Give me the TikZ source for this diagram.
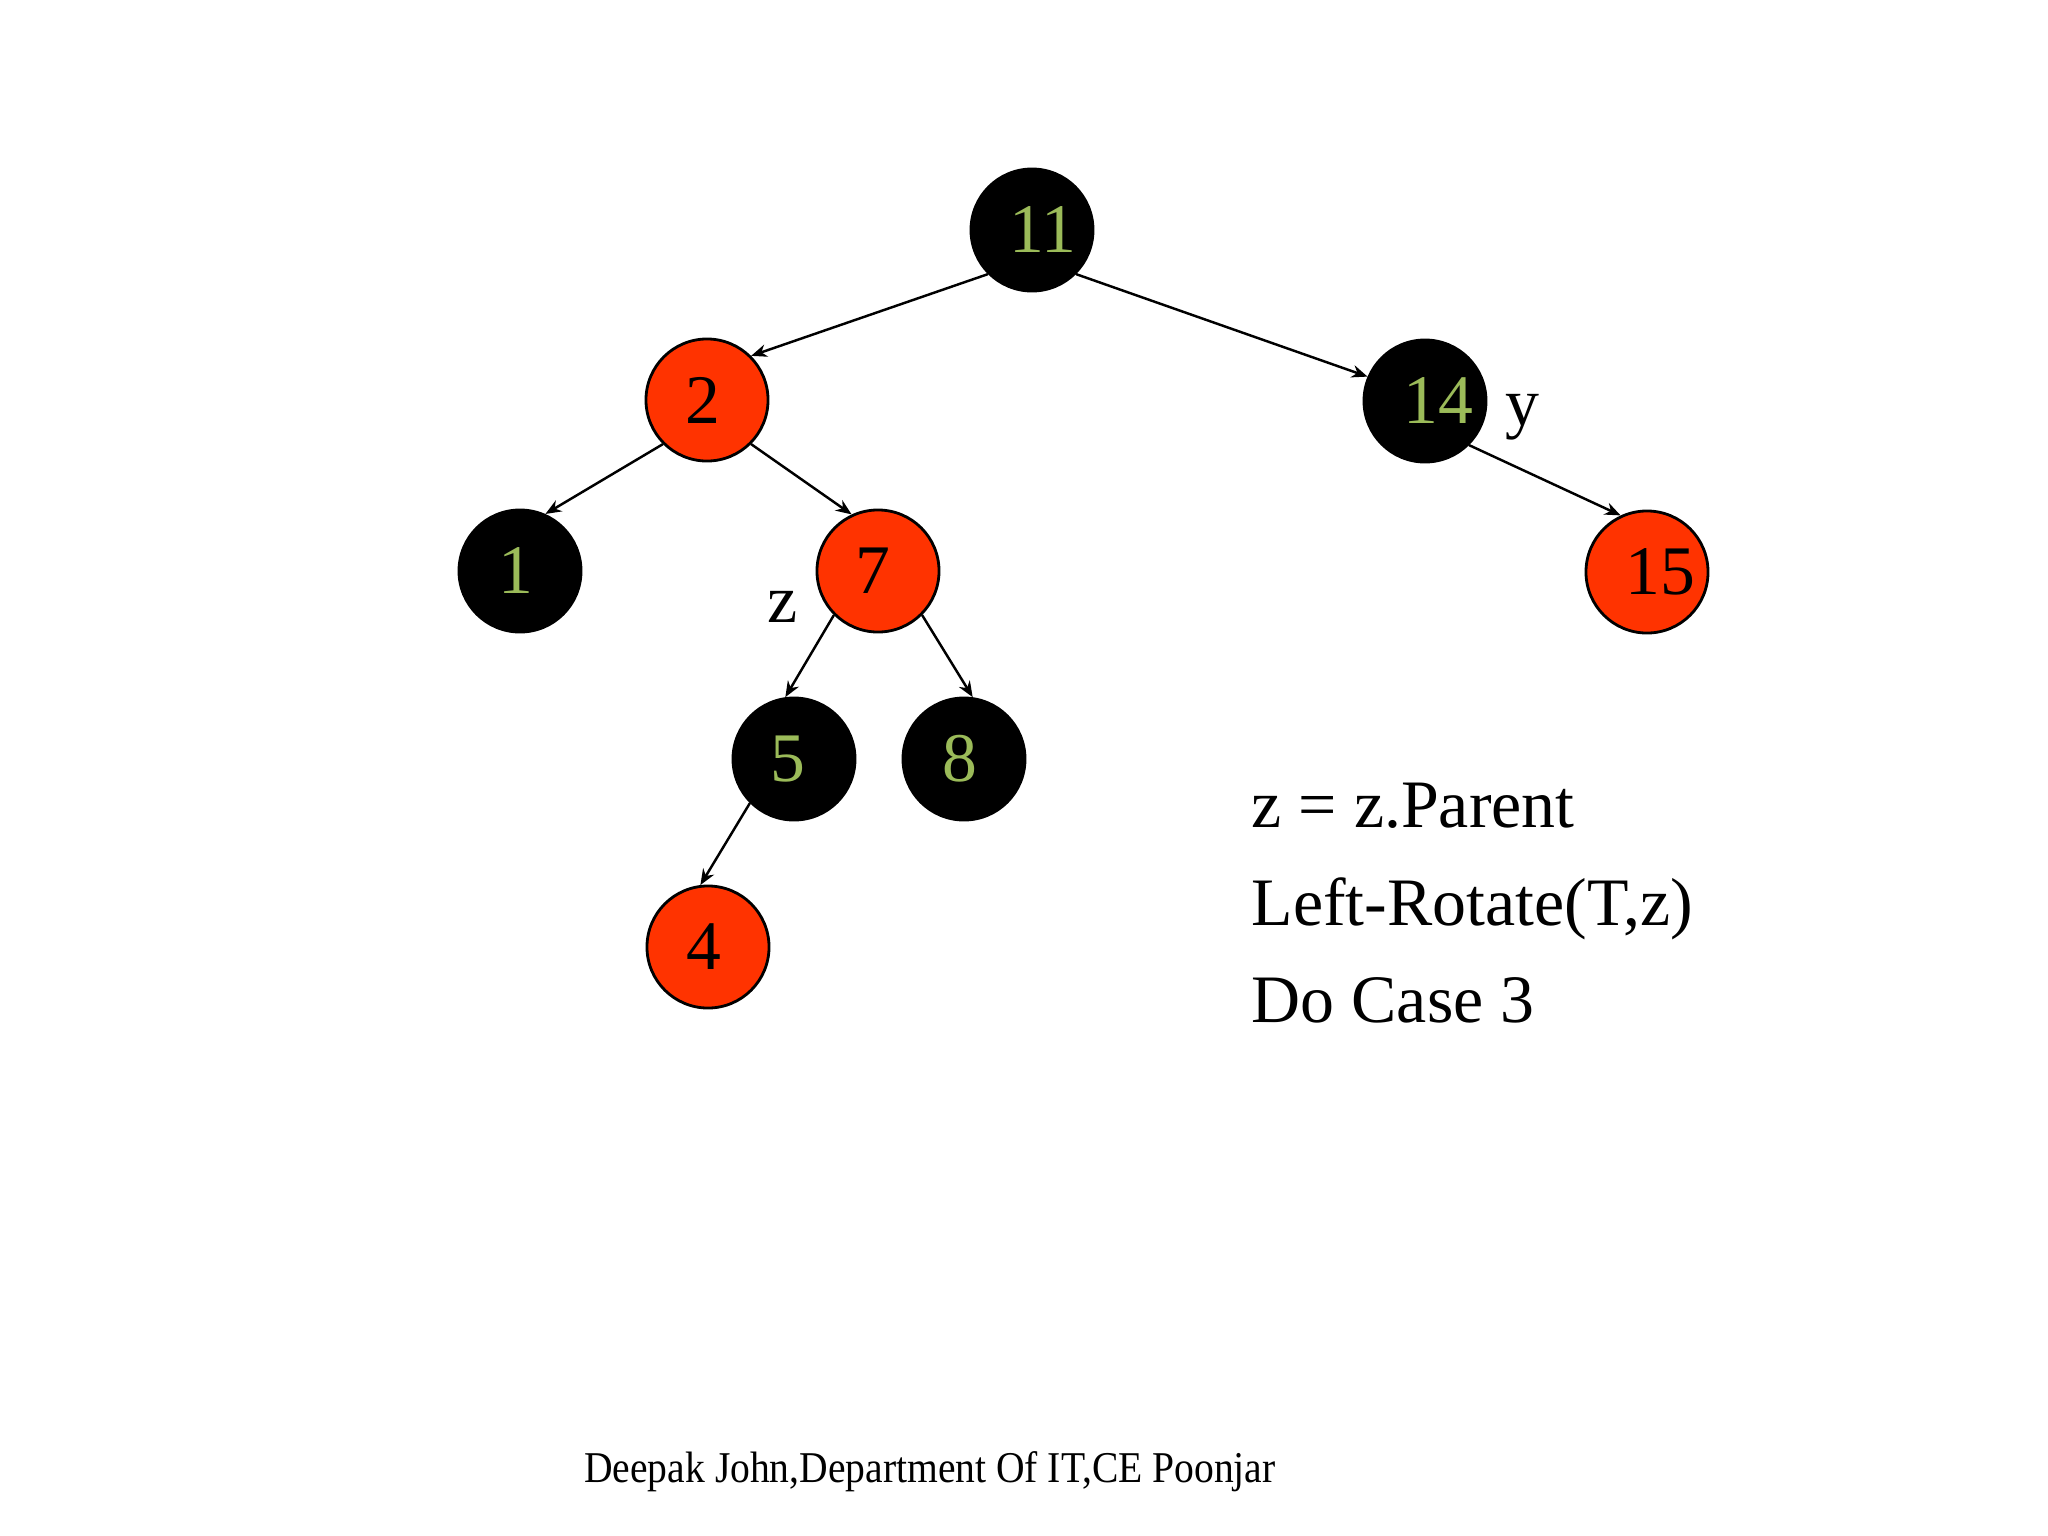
\documentclass[tikz,border=0pt]{standalone}
\usepackage{fontspec}
\setmainfont{Liberation Serif}
\usetikzlibrary{arrows.meta}
\definecolor{rbred}{HTML}{FF3300}
\definecolor{numgreen}{HTML}{9BBB59}
\begin{document}
\begin{tikzpicture}[x=0.01cm,y=-0.01cm,
  rb/.style={circle, minimum size=1.22cm, inner sep=0pt, line width=0.8pt, draw=black},
  rednode/.style={rb, fill=rbred},
  blacknode/.style={rb, fill=black},
  numtxt/.style={inner sep=0pt, font=\fontsize{19.8}{22}\selectfont},
  gnum/.style={numtxt, text=numgreen},
  knum/.style={numtxt, text=black},
  edge/.style={-{Stealth[length=4.5pt,width=3.6pt]}, line width=0.7pt},
  bigtext/.style={font=\fontsize{19.3}{23}\selectfont, inner sep=0pt}]
\useasboundingbox (0,0) rectangle (2048,1536);
\fill[white] (0,0) rectangle (2048,1536);

\node[blacknode, label={[gnum, xshift=3.2pt]center:11}] (n11) at (1032,230) {};
\node[rednode, label={[knum, xshift=-1.2pt]center:2}] (n2) at (707,400) {};
\node[blacknode, label={[gnum, xshift=3.8pt]center:14}] (n14) at (1425,401) {};
\node[blacknode, label={[gnum, xshift=-1.2pt]center:1}] (n1) at (520,571) {};
\node[rednode, label={[knum, xshift=-1.4pt]center:7}] (n7) at (878,571) {};
\node[rednode, label={[knum, xshift=3.8pt]center:15}] (n15) at (1647,572) {};
\node[blacknode, label={[gnum, xshift=-1.6pt]center:5}] (n5) at (794,759) {};
\node[blacknode, label={[gnum, xshift=-1.2pt]center:8}] (n8) at (964,759) {};
\node[rednode, label={[knum, xshift=-1.2pt]center:4}] (n4) at (708,947) {};

\draw[edge] (n11.225) -- (n2.45);
\draw[edge] (n11.315) -- (n14.157);
\draw[edge] (n2.225) -- (n1.66);
\draw[edge] (n2.315) -- (n7.115);
\draw[edge] (n14.315) -- (n15.115);
\draw[edge] (n7.225) -- (n5.98);
\draw[edge] (n7.315) -- (n8.82);
\draw[edge] (n5.225) -- (n4.97);

\node[bigtext, anchor=base] (ylab) at (1522,425) {y};
\node[bigtext, anchor=base] (zlab) at (783,622) {z};

\node[bigtext, anchor=base west] (t1) at (1251,827) {z = z.Parent};
\node[bigtext, anchor=base west] (t2) at (1251,925) {Left-Rotate(T,z)};
\node[bigtext, anchor=base west] (t3) at (1251,1022) {Do Case 3};

\node[anchor=base, inner sep=0pt, font=\fontsize{12.5}{14}\selectfont] (foot) at (930,1482) {\scalebox{0.9}[1]{Deepak John,Department Of IT,CE Poonjar}};
\end{tikzpicture}
\end{document}
